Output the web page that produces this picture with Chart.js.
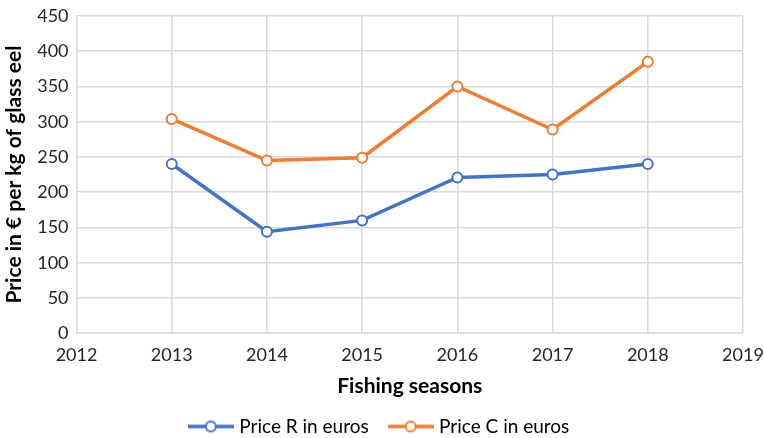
<!DOCTYPE html>
<html>
<head>
<meta charset="utf-8">
<script src="https://cdn.jsdelivr.net/npm/chart.js@4/dist/chart.umd.min.js"></script>
<style>
  html, body { margin: 0; padding: 0; background: #fff; }
  #wrap { width: 764px; height: 438px; }
</style>
</head>
<body>
<div id="wrap"><canvas id="mycanvas"></canvas></div>
<script>
var years = [2013, 2014, 2015, 2016, 2017, 2018];
var priceR = [240, 144, 160, 221, 225, 240];
var priceC = [304, 245, 249, 350, 289, 385];
var yTicks = [0, 50, 100, 150, 200, 250, 300, 350, 400, 450];

var blue = '#4472c4';
var orange = '#ed7d31';
var fontFam = 'Lato, "Open Sans", sans-serif';

function pts(vals) {
    var out = [];
    for (var i in years) {
        out.push({x: years[i], y: vals[i]});
    }
    return out;
}

// legend marker: short line with open circle
function legendMark(color) {
    var c = document.createElement('canvas');
    c.width = 46; c.height = 14;
    var g = c.getContext('2d');
    g.strokeStyle = color;
    g.lineWidth = 3.5;
    g.beginPath(); g.moveTo(0, 7); g.lineTo(46, 7); g.stroke();
    g.fillStyle = '#fff';
    g.lineWidth = 2;
    g.beginPath(); g.arc(23, 7, 5, 0, Math.PI * 2); g.fill(); g.stroke();
    return c;
}

var ctx = document.getElementById('mycanvas');
var myChart = new Chart(ctx, {
    type: 'line',
    data: {
        datasets: [{
            label: 'Price R in euros',
            data: pts(priceR),
            borderColor: blue,
            backgroundColor: '#fff',
            borderWidth: 3.5,
            pointRadius: 5,
            pointBorderWidth: 2,
            pointBackgroundColor: '#fff',
            pointBorderColor: blue,
            pointStyle: 'circle'
        }, {
            label: 'Price C in euros',
            data: pts(priceC),
            borderColor: orange,
            backgroundColor: '#fff',
            borderWidth: 3.5,
            pointRadius: 5,
            pointBorderWidth: 2,
            pointBackgroundColor: '#fff',
            pointBorderColor: orange,
            pointStyle: 'circle'
        }]
    },
    options: {
        responsive: true,
        maintainAspectRatio: false,
        animation: false,
        layout: { padding: { left: 2, right: 0, top: 3, bottom: -8 } },
        plugins: {
            tooltip: { enabled: false },
            legend: {
                position: 'bottom',
                labels: {
                    usePointStyle: true,
                    pointStyleWidth: 38,
                    color: '#404040',
                    font: { family: fontFam, size: 19 },
                    padding: 18,
                    boxWidth: 38,
                    generateLabels: function(chart) {
                        return chart.data.datasets.map(function(ds, i) {
                            return {
                                text: ds.label + ' ',
                                pointStyle: legendMark(ds.borderColor),
                                fillStyle: '#fff',
                                strokeStyle: ds.borderColor,
                                lineWidth: 0,
                                datasetIndex: i
                            };
                        });
                    }
                }
            }
        },
        scales: {
            x: {
                type: 'linear',
                min: 2012,
                max: 2019,
                afterFit: function(s) { s.paddingRight = 21; },
                ticks: {
                    stepSize: 1,
                    color: '#262626',
                    font: { family: fontFam, size: 18 },
                    padding: 11,
                    callback: function(v) { return String(v); }
                },
                grid: { color: '#d9d9d9', lineWidth: 1.5, drawTicks: false },
                border: { color: '#d9d9d9', width: 1.5 },
                title: {
                    display: true,
                    text: 'Fishing seasons',
                    color: '#000',
                    font: { family: fontFam, size: 21, weight: 'bold' },
                    padding: { top: -3, bottom: 0 }
                }
            },
            y: {
                min: 0,
                max: 450,
                afterBuildTicks: function(axis) {
                    axis.ticks = yTicks.map(function(v) { return {value: v}; });
                },
                afterFit: function(s) { s.paddingTop = 16; },
                ticks: {
                    color: '#262626',
                    font: { family: fontFam, size: 18 },
                    padding: 8
                },
                grid: { color: '#d9d9d9', lineWidth: 1.5, drawTicks: false },
                border: { color: '#d9d9d9', width: 1.5 },
                title: {
                    display: true,
                    text: 'Price in \u20ac per kg of glass eel',
                    color: '#000',
                    font: { family: fontFam, size: 21, weight: 'bold' },
                    padding: { top: 0, bottom: 2 }
                }
            }
        }
    }
});
</script>
</body>
</html>
